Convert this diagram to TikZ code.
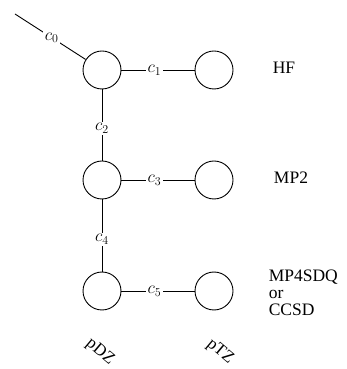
\documentclass[tikz,border=0pt]{standalone}
\usepackage{fontspec}
\setmainfont{Liberation Serif}
\usepackage{amsmath}

\tikzset{
  basis/.style={draw,circle,minimum size=38pt,inner sep=0pt},
  coef/.style={fill=white,inner sep=1.5pt,font=\fontsize{17}{18}\selectfont},
  level/.style={font=\fontsize{17.5}{17}\selectfont},
}

\begin{document}
\begin{tikzpicture}[x=1pt,y=1pt,line width=0.9pt,font=\fontsize{17}{18}\selectfont]
\useasboundingbox (0,0) rectangle (347,369);
\node[basis] (HFd)at(102,299){};
\node[basis] (HFt)at(214,299){};
\node[basis] (MPd)at(102,189){};
\node[basis] (MPt)at(214,189){};
\node[basis] (CCd)at(102,78){};
\node[basis] (CCt)at(214,78){};
\coordinate (start)at(15,355);
\draw (start)--(HFd)node[coef,pos=0.52]{$c_0$};
\draw (HFd)--(HFt)node[coef,pos=0.45]{$c_1$};
\draw (HFd)--(MPd)node[coef,pos=0.55]{$c_2$};
\draw (MPd)--(MPt)node[coef,pos=0.45]{$c_3$};
\draw (MPd)--(CCd)node[coef,pos=0.55]{$c_4$};
\draw (CCd)--(CCt)node[coef,pos=0.45]{$c_5$};
\node[level] (HF)at(284,301){HF};
\node[level] (MP2)at(291,191){MP2};
\node[level,anchor=west,align=left] (CC)at(265,76){MP4SDQ\\or\\CCSD};
\node[rotate=-40] (pDZ)at(100,17){pDZ};
\node[rotate=-40] (pTZ)at(220,17){pTZ};
\end{tikzpicture}
\end{document}
